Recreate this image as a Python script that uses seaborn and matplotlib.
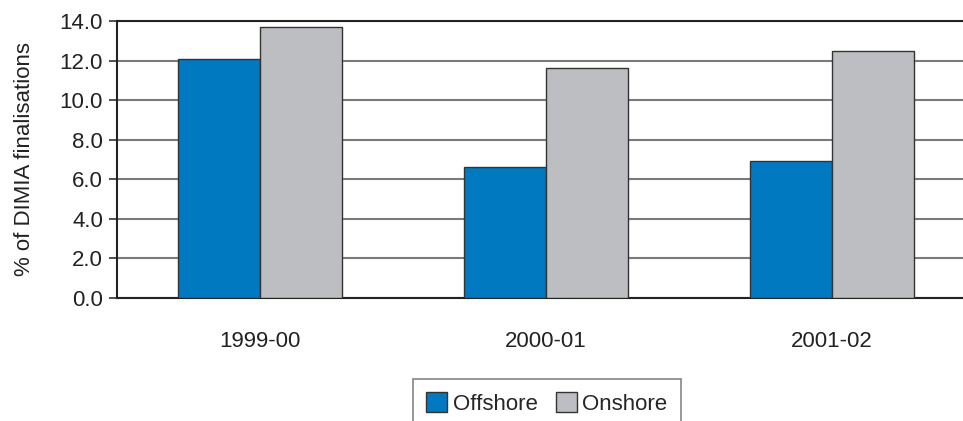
import matplotlib
matplotlib.use("Agg")
import matplotlib.pyplot as plt
import seaborn as sns
import pandas as pd

years = ["1999-00", "2000-01", "2001-02"]
offshore = [12.1, 6.6, 6.9]
onshore = [13.7, 11.6, 12.5]
series_names = ["Offshore", "Onshore"]
y_ticks = [0.0, 2.0, 4.0, 6.0, 8.0, 10.0, 12.0, 14.0]

df = pd.DataFrame({
    "year": years * 2,
    "series": [series_names[0]] * 3 + [series_names[1]] * 3,
    "value": offshore + onshore,
})

sns.set_theme(style="white")
plt.rcParams["font.family"] = ["Liberation Sans", "DejaVu Sans"]

fig = plt.figure(figsize=(9.63, 4.21), dpi=100)
W, H = 963, 421
left_px, right_px, top_px, bottom_px = 117, 975, 21, 298
ax = fig.add_axes([left_px / W, 1 - bottom_px / H,
                   (right_px - left_px) / W, (bottom_px - top_px) / H])

sns.barplot(data=df, x="year", y="value", hue="series",
            palette=["#0079C1", "#BDBEC2"], width=0.574,
            edgecolor="#333333", linewidth=1.0, saturation=1,
            ax=ax, zorder=3)

fs = 16
ax.set_xlim(-0.5, 2.5)
ax.set_ylim(0, 14)
ax.set_yticks(y_ticks)
ax.set_yticklabels([f"{v:.1f}" for v in y_ticks], fontsize=fs, color="#222222")
ax.set_xticks(range(len(years)))
ax.set_xticklabels(years, fontsize=fs, color="#222222")
ax.set_xticks([-0.5, 0.5, 1.5, 2.5], minor=True)
ax.tick_params(axis="x", which="major", length=0, pad=24)
ax.tick_params(axis="x", which="minor", length=8, width=1.2, color="#333333", direction="out")
ax.tick_params(axis="y", which="major", length=6, width=1.2, color="#333333",
               direction="out", left=True, pad=4)
ax.set_xlabel("")
ax.set_ylabel("% of DIMIA finalisations", fontsize=fs, color="#222222", labelpad=18)

ax.yaxis.grid(True, color="#7a7a7a", linewidth=1.5, zorder=0)
ax.set_axisbelow(True)
for side in ["left", "bottom", "top"]:
    ax.spines[side].set_visible(True)
    ax.spines[side].set_color("#222222")
    ax.spines[side].set_linewidth(1.5)
ax.spines["right"].set_visible(False)

ax.legend_.remove()
handles, labels = ax.get_legend_handles_labels()
leg = fig.legend(handles, labels, ncol=2, loc="upper left",
                 bbox_to_anchor=(413 / W, 1 - 379 / H), fontsize=fs,
                 frameon=True, fancybox=False, edgecolor="#666666",
                 handlelength=0.95, handleheight=0.95, handletextpad=0.25,
                 columnspacing=0.8, borderpad=0.6, borderaxespad=0)
leg.get_frame().set_linewidth(1.2)

fig.savefig("out.png", dpi=100)
